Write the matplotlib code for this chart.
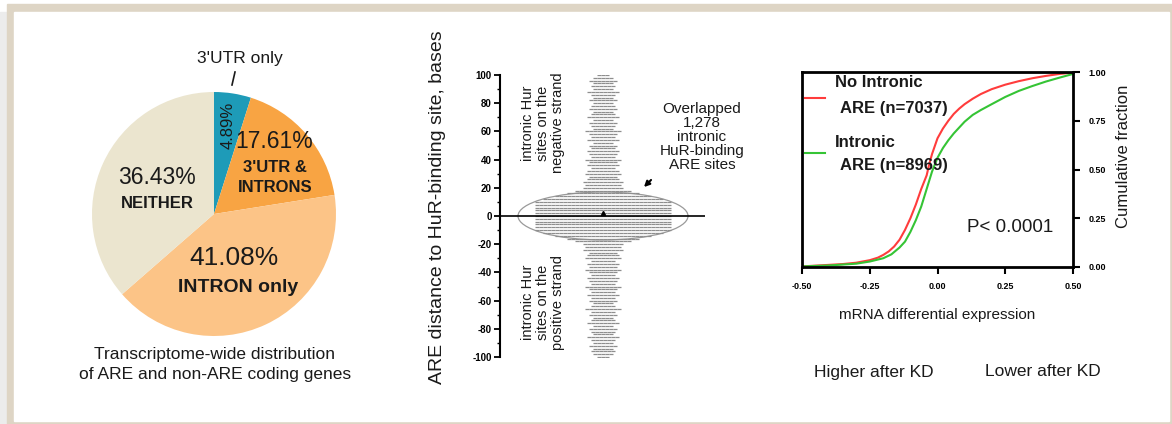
import numpy as np
import matplotlib.pyplot as plt
from matplotlib.patches import Rectangle, Ellipse

plt.rcParams['font.family'] = ['Liberation Sans', 'DejaVu Sans']
plt.rcParams['axes.unicode_minus'] = False

W, H = 1172, 424
TXT = '#1a1a1a'

# --- pie: transcriptome-wide distribution
pie_names = ["3'UTR only", "3'UTR & INTRONS", "INTRON only", "NEITHER"]
pie_values = [4.89, 17.61, 41.08, 36.43]
pie_colors = ['#1e9bb8', '#f8a443', '#fcc487', '#ebe5cf']

# --- swarm: ARE distance to HuR site (bases), points per 2-base level
swarm_levels = np.arange(-100, 101, 2)
swarm_counts = [3, 5, 6, 5, 7, 5, 6, 8, 5, 6, 7, 5, 8, 6, 5, 7, 6, 9, 6, 5,
                7, 6, 8, 6, 7, 9, 6, 7, 8, 6, 7, 9, 7, 8, 6, 9, 8, 7, 10, 9,
                10, 14, 18, 24, 30, 34, 34, 34, 34, 34, 34, 34, 34, 34, 34, 34,
                30, 24, 18, 14, 10,
                9, 10, 8, 7, 9, 8, 6, 8, 7, 9, 6, 7, 8, 6, 7, 5, 8, 6, 7, 9,
                5, 6, 7, 5, 8, 6, 5, 7, 6, 5, 7, 5, 6, 8, 5, 6, 5, 7, 5, 3]

# --- cumulative fraction curves
red_x = [-0.50, -0.45, -0.40, -0.35, -0.30, -0.25, -0.22, -0.20, -0.18, -0.16,
         -0.14, -0.12, -0.10, -0.08, -0.06, -0.04, -0.03, -0.02, -0.01, 0.00,
         0.02, 0.04, 0.06, 0.08, 0.10, 0.13, 0.16, 0.20, 0.25, 0.30, 0.35,
         0.40, 0.45, 0.50]
red_y = [0.003, 0.007, 0.011, 0.015, 0.022, 0.035, 0.048, 0.062, 0.08, 0.105,
         0.14, 0.19, 0.25, 0.32, 0.40, 0.47, 0.53, 0.58, 0.62, 0.66,
         0.71, 0.75, 0.785, 0.812, 0.835, 0.863, 0.887, 0.912, 0.935, 0.953,
         0.968, 0.980, 0.990, 0.997]
green_x = [-0.50, -0.40, -0.30, -0.25, -0.20, -0.17, -0.14, -0.12, -0.10, -0.08,
           -0.06, -0.04, -0.02, 0.00, 0.02, 0.04, 0.06, 0.08, 0.10, 0.13,
           0.16, 0.20, 0.25, 0.30, 0.35, 0.40, 0.45, 0.50]
green_y = [0.003, 0.008, 0.017, 0.028, 0.045, 0.065, 0.10, 0.13, 0.18, 0.24,
           0.31, 0.40, 0.49, 0.56, 0.61, 0.65, 0.685, 0.715, 0.745, 0.78,
           0.805, 0.835, 0.872, 0.903, 0.928, 0.951, 0.971, 0.99]


def fx(px):
    return px / W


def fy(py):
    return 1 - py / H


fig = plt.figure(figsize=(W / 100, H / 100), dpi=100)
fig.patch.set_facecolor('white')

# frame
fig.add_artist(Rectangle((0, 0), fx(7), fy(12), transform=fig.transFigure,
                         color='#ececec', zorder=-12))
fig.add_artist(Rectangle((fx(7), 0), 1 - fx(7), fy(4), transform=fig.transFigure,
                         color='#ded5c5', zorder=-11))
fig.add_artist(Rectangle((fx(14), fy(421)), fx(1169) - fx(14), fy(12) - fy(421),
                         transform=fig.transFigure, color='white', zorder=-10))

# ---------------- pie
ax1 = fig.add_axes([fx(92), fy(336), 244 / W, 244 / H])
ax1.pie(pie_values, colors=pie_colors, startangle=90, counterclock=False,
        radius=1, wedgeprops=dict(linewidth=0))
ax1.set_xlim(-1, 1)
ax1.set_ylim(-1, 1)
ax1.axis('off')


def pp(px, py):
    return (px - 214) / 122, (214 - py) / 122


def ptxt(px, py, s, **kw):
    x, y = pp(px, py)
    ax1.text(x, y, s, ha='center', va='center', color=TXT, clip_on=False, **kw)


ptxt(157, 177, '36.43%', fontsize=16.5)
ptxt(157, 203, 'NEITHER', fontsize=12, fontweight='bold')
ptxt(274, 142, '17.61%', fontsize=16.5)
ptxt(275, 168, "3'UTR &", fontsize=12, fontweight='bold')
ptxt(275, 187, 'INTRONS', fontsize=12, fontweight='bold')
ptxt(234, 258, '41.08%', fontsize=19)
ptxt(238, 288, 'INTRON only', fontsize=14, fontweight='bold')
ptxt(228, 125, '4.89%', fontsize=12, rotation=90)
ptxt(240, 58, "3'UTR only", fontsize=12.5)
x0, y0 = pp(235, 72)
x1, y1 = pp(232, 85)
ax1.plot([x0, x1], [y0, y1], color=TXT, lw=1.2, clip_on=False)

fig.text(fx(215), fy(355), 'Transcriptome-wide distribution', ha='center',
         va='center', fontsize=12.5, color=TXT)
fig.text(fx(215), fy(375), 'of ARE and non-ARE coding genes', ha='center',
         va='center', fontsize=12.5, color=TXT)

# ---------------- swarm
ax2 = fig.add_axes([fx(500), fy(357), 205 / W, 282 / H])
ax2.patch.set_alpha(0)
xs, ys = [], []
for lvl, n in zip(swarm_levels, swarm_counts):
    offs = np.arange(n) - (n - 1) / 2
    xs.extend(offs)
    ys.extend([lvl] * n)
ax2.plot(xs, ys, ls='none', marker='_', ms=3, mew=0.9, color='#8e8e8e')
ax2.plot([0], [2], ls='none', marker='^', ms=3, color='black')
ax2.axhline(0, color='black', lw=1.2)
ax2.add_patch(Ellipse((0, 0), 42.5, 34, fill=False, ec='#9a9a9a', lw=0.9))
ax2.set_xlim(-25.75, 25.5)
ax2.set_ylim(-100, 100)
ax2.set_yticks(np.arange(-100, 101, 20))
ax2.set_yticks(np.arange(-90, 91, 20), minor=True)
ax2.tick_params(axis='y', which='major', length=4, width=1.3, labelsize=7, pad=2)
ax2.tick_params(axis='y', which='minor', length=2.5, width=1.0)
for lab in ax2.get_yticklabels():
    lab.set_fontweight('bold')
ax2.set_xticks([])
for s in ['top', 'right', 'bottom']:
    ax2.spines[s].set_visible(False)
ax2.spines['left'].set_linewidth(1.5)

fig.text(fx(437), fy(207), 'ARE distance to HuR-binding site, bases',
         rotation=90, ha='center', va='center', fontsize=14, color=TXT)


def sx(px):
    return (px - 603) / 4


def sy(py):
    return (216 - py) / 1.41


ax2.text(sx(543), sy(123), 'intronic Hur\nsites on the\nnegative strand',
         rotation=90, ha='center', va='center', fontsize=10.5, color=TXT,
         linespacing=1.05)
ax2.text(sx(543), sy(302), 'intronic Hur\nsites on the\npositive strand',
         rotation=90, ha='center', va='center', fontsize=10.5, color=TXT,
         linespacing=1.05)
ax2.text(sx(702), sy(137), 'Overlapped\n1,278\nintronic\nHuR-binding\nARE sites',
         ha='center', va='center', fontsize=11, color=TXT, linespacing=1.0,
         clip_on=False)
ax2.annotate('', xy=(sx(642), sy(189)), xytext=(sx(653), sy(178)),
             arrowprops=dict(arrowstyle='-|>', color='black', lw=1.5,
                             mutation_scale=8), annotation_clip=False)

# ---------------- cumulative fraction
ax3 = fig.add_axes([fx(802), fy(267), 271 / W, 195 / H])
ax3.plot(red_x, red_y, color='#ff3c3c', lw=1.5)
ax3.plot(green_x, green_y, color='#35c435', lw=1.5)
ax3.set_xlim(-0.5, 0.5)
ax3.set_ylim(0, 1)
ax3.set_xticks([-0.5, -0.25, 0, 0.25, 0.5])
ax3.set_xticklabels(['-0.50', '-0.25', '0.00', '0.25', '0.50'])
ax3.yaxis.tick_right()
ax3.set_yticks([0, 0.25, 0.5, 0.75, 1])
ax3.set_yticklabels(['0.00', '0.25', '0.50', '0.75', '1.00'])
ax3.tick_params(length=5, width=1.5, labelsize=6.5, pad=6)
for lab in ax3.get_xticklabels() + ax3.get_yticklabels():
    lab.set_fontweight('bold')
for s in ax3.spines.values():
    s.set_linewidth(2)

ax3.plot([0.011, 0.085], [0.867, 0.867], color='#ff3c3c', lw=1.5,
         transform=ax3.transAxes)
ax3.plot([0.011, 0.085], [0.585, 0.585], color='#35c435', lw=1.5,
         transform=ax3.transAxes)
leg_kw = dict(transform=ax3.transAxes, ha='left', va='center', fontsize=12,
              fontweight='bold', color=TXT)
ax3.text(0.122, 0.944, 'No Intronic', **leg_kw)
ax3.text(0.14, 0.815, 'ARE (n=7037)', **leg_kw)
ax3.text(0.122, 0.641, 'Intronic', **leg_kw)
ax3.text(0.14, 0.523, 'ARE (n=8969)', **leg_kw)
ax3.text(0.609, 0.205, 'P< 0.0001', transform=ax3.transAxes, ha='left',
         va='center', fontsize=13.5, color=TXT)

fig.text(fx(1123), fy(156), 'Cumulative fraction', rotation=90, ha='center',
         va='center', fontsize=12, color=TXT)
fig.text(fx(937), fy(315), 'mRNA differential expression', ha='center',
         va='center', fontsize=11, color=TXT)
fig.text(fx(874), fy(372), 'Higher after KD', ha='center', va='center',
         fontsize=12.5, color=TXT)
fig.text(fx(1043), fy(372), 'Lower after KD', ha='center', va='center',
         fontsize=12.5, color=TXT)

plt.savefig('out.png', dpi=100)
